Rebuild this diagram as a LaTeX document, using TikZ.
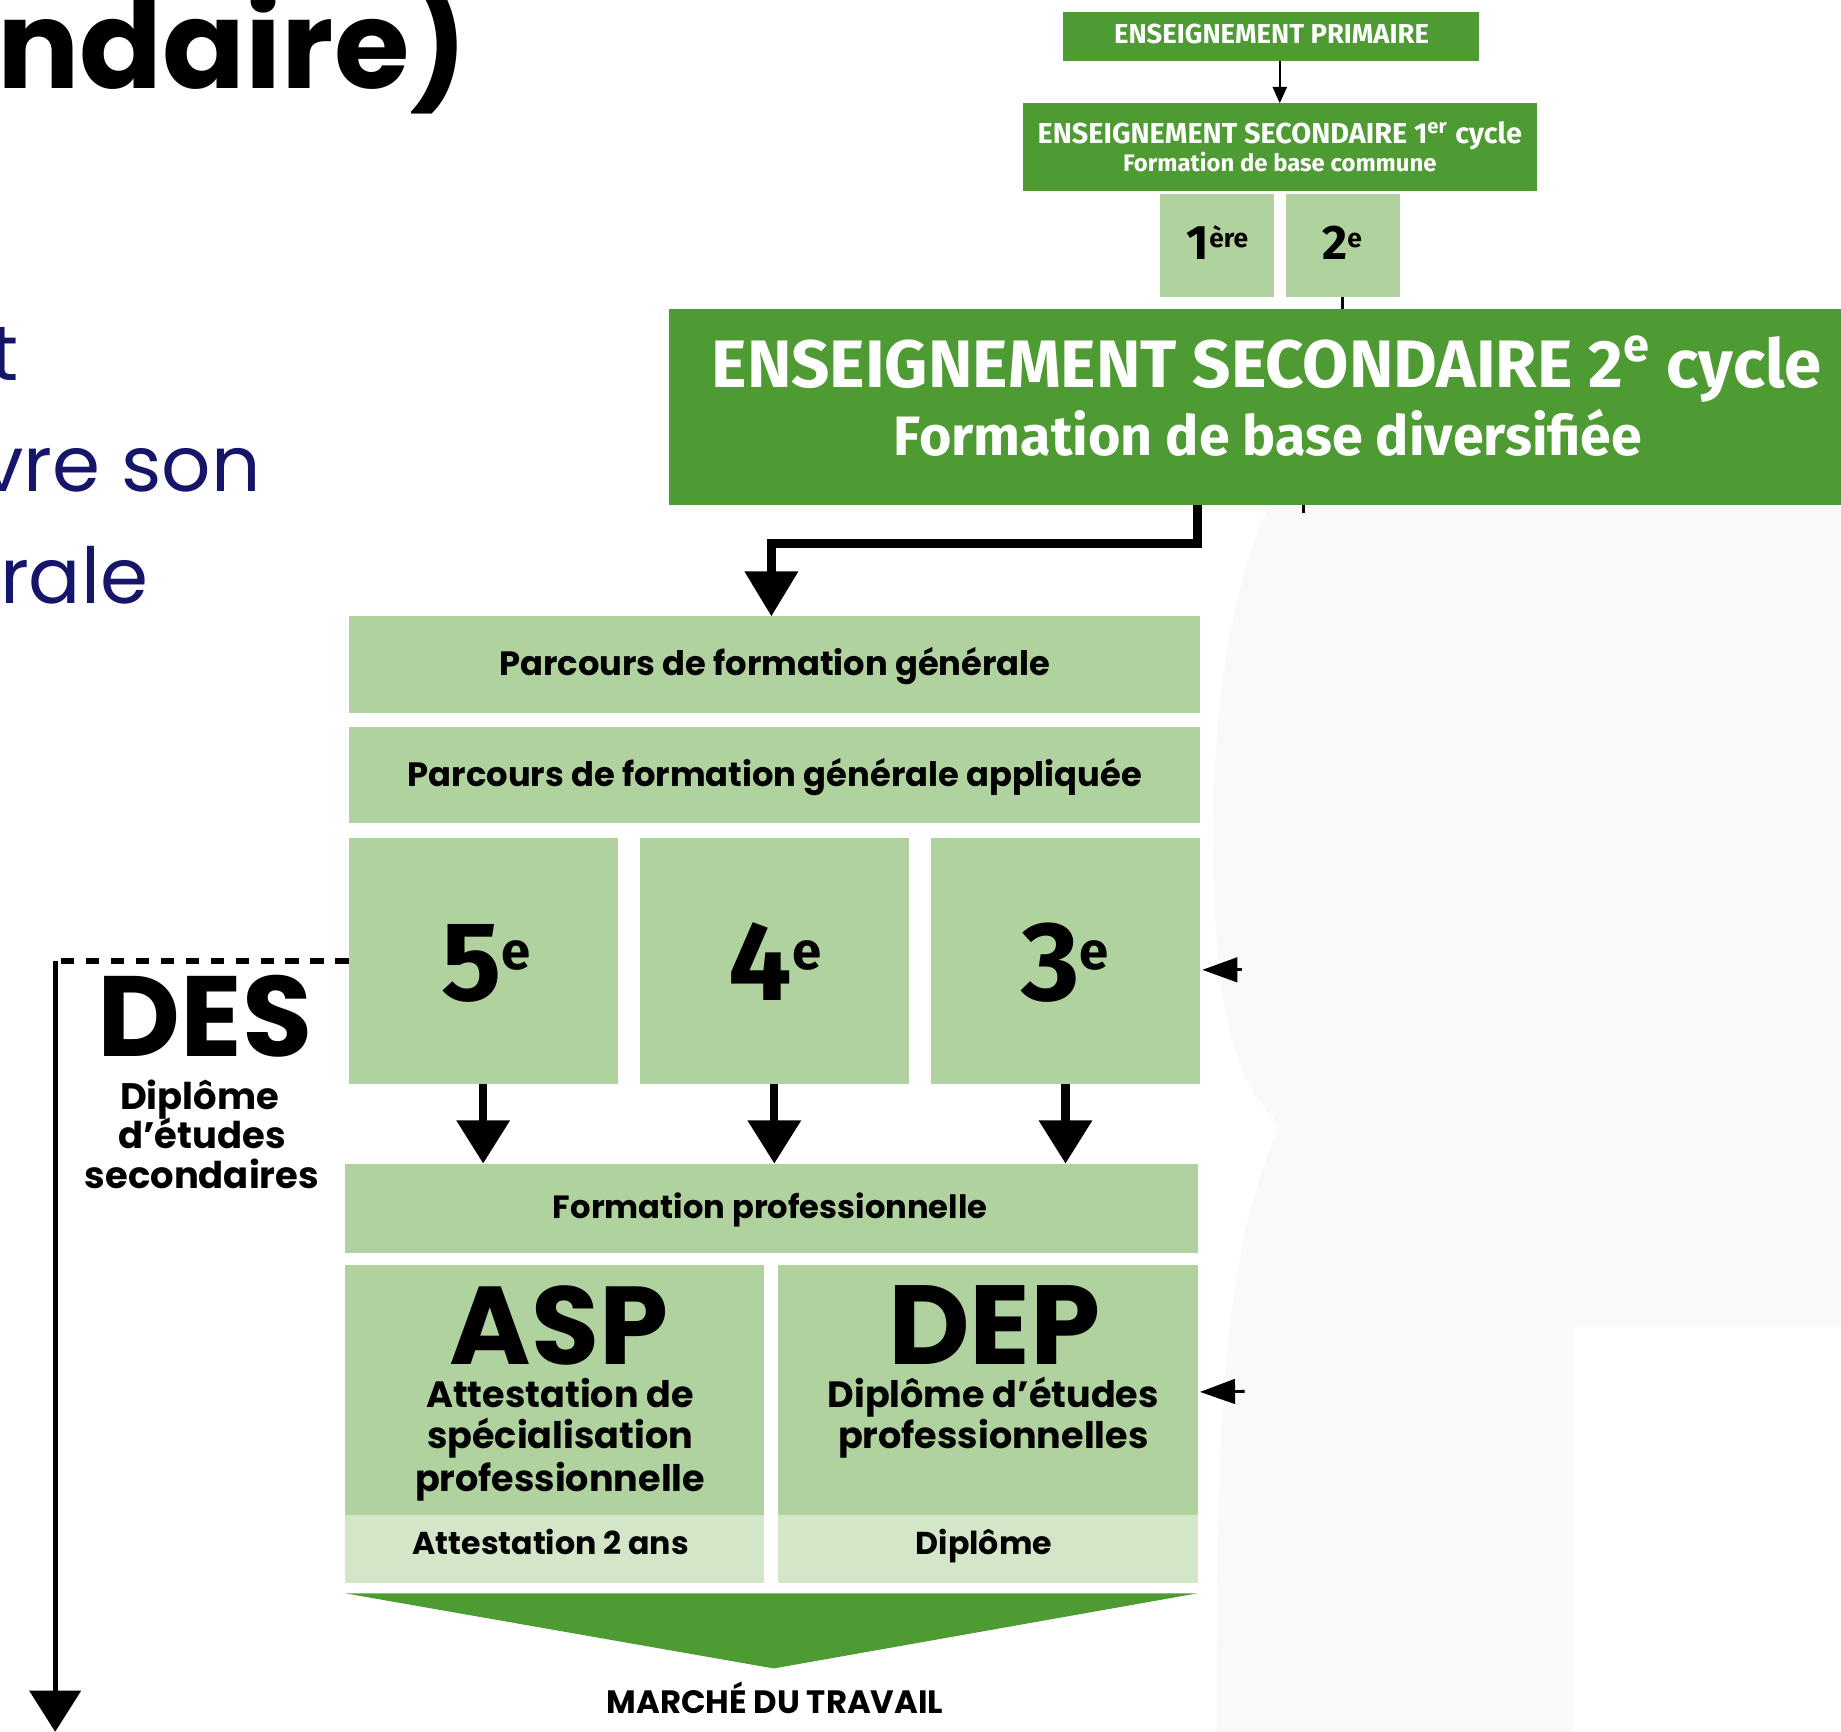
\documentclass[tikz,border=0pt]{standalone}
\usepackage{fontspec}
\setmainfont{Poppins}
\newfontfamily\fira{Fira Sans}
\usetikzlibrary{arrows.meta,calc}
\definecolor{dkg}{HTML}{4E9A33}
\definecolor{ltg}{HTML}{B0D29E}
\definecolor{xlg}{HTML}{D4E6C8}
\definecolor{navy}{HTML}{15156A}
\definecolor{patch}{HTML}{F9F9F9}
\newcommand{\pxu}{*0.3341pt}
\newcommand{\fs}[1]{\fontsize{#1}{#1}\selectfont}
\newcommand{\grade}[2]{{\fs{32}#1}{\fs{15}\raisebox{8.7pt}{#2}}}
\begin{document}
\begin{tikzpicture}[x=0.3341pt,y=-0.3341pt,
  dkbox/.style={fill=dkg,draw=none,inner sep=0pt,outer sep=0pt},
  ltbox/.style={fill=ltg,draw=none,inner sep=0pt,outer sep=0pt},
  xlbox/.style={fill=xlg,draw=none,inner sep=0pt,outer sep=0pt},
  lbl/.style={anchor=base,inner sep=0pt,outer sep=0pt,font=\bfseries},
  wlbl/.style={lbl,text=white},
  bluetxt/.style={inner sep=0pt,outer sep=0pt,text=navy,font=\fs{22}},
  thinarr/.style={line width=0.7pt,-{Triangle[length=4.7pt,width=4pt]}},
  thinline/.style={line width=0.7pt},
  bigarr/.style={line width=2.6pt,-{Triangle[length=12.8pt,width=14.6pt]}},
  downarr/.style={line width=2.3pt,-{Triangle[length=12.3pt,width=14.7pt]}},
  desarr/.style={line width=1.5pt,-{Triangle[length=11.7pt,width=14.4pt]}},
  dashln/.style={line width=1.5pt,dash pattern=on 3.8pt off 3.3pt},
  remarr/.style={line width=0.8pt,-{Triangle[length=10pt,width=7pt]}}
]
\useasboundingbox (0,0) rectangle (1568,1475);

% faint background patch on the right
\fill[patch] (1080,432) .. controls (1040,520) and (1030,650) .. (1034,750)
  .. controls (1036,880) and (1060,930) .. (1090,958)
  .. controls (1050,1050) and (1035,1150) .. (1036,1475)
  -- (1340,1475) -- (1340,1130) -- (1568,1130) -- (1568,432) -- cycle;

% title fragment and body text fragments
\node[anchor=base west,inner sep=0pt,font=\bfseries\fs{34.8}] (title) at (-3,75) {ndaire)};
\node[bluetxt,anchor=base east] (bl1) at (16,324) {t};
\node[bluetxt,anchor=base east] (bl2) at (222,419) {vre son};
\node[bluetxt,anchor=base west] (bl3) at (0,514) {rale};

% top boxes
\node[dkbox,minimum width=355\pxu,minimum height=42\pxu] (prim) at (1082.5,31) {};
\node[wlbl,font=\fira\bfseries\fs{7.8}] (primt) at (1083,37) {ENSEIGNEMENT PRIMAIRE};
\node[dkbox,minimum width=438\pxu,minimum height=75\pxu] (sec1) at (1090,125.5) {};
\node[wlbl,font=\fira\bfseries\fs{8.2}] (sec1a) at (1090,122) {ENSEIGNEMENT SECONDAIRE 1\textsuperscript{er} cycle};
\node[wlbl,font=\fira\bfseries\fs{6.8}] (sec1b) at (1090,146) {Formation de base commune};
\node[ltbox,minimum width=97\pxu,minimum height=88\pxu] (g1) at (1036.5,209) {};
\node[ltbox,minimum width=97\pxu,minimum height=88\pxu] (g2) at (1143.5,209) {};
\node[lbl,font=\fira\bfseries] (g1t) at (1037,221) {{\fs{13.8}1}{\fs{7.5}\raisebox{3.3pt}{ère}}};
\node[lbl,font=\fira\bfseries] (g2t) at (1143,221) {{\fs{13.8}2}{\fs{7.5}\raisebox{3.3pt}{e}}};
\node[dkbox,minimum width=1020\pxu,minimum height=167\pxu] (sec2) at (1080,346.5) {};
\node[wlbl,font=\fira\bfseries\fs{19.1}] (sec2a) at (1079,330) {ENSEIGNEMENT SECONDAIRE 2\textsuperscript{e} cycle};
\node[wlbl,font=\fira\bfseries\fs{15.8}] (sec2b) at (1080,388) {Formation de base diversifiée};

\draw[thinarr] (sec1.north |- prim.south) -- (sec1.north);
\draw[thinline] (g2.south) -- (g2.south |- sec2.north);
\coordinate (tick) at (1110,437);
\draw[thinline] (sec2.south -| tick) -- (tick);

% parcours
\node[ltbox,minimum width=725\pxu,minimum height=82\pxu] (pg) at (659.5,566) {};
\node[lbl,font=\bfseries\fs{9.6}] (pgt) at (660,575) {Parcours de formation générale};
\node[ltbox,minimum width=725\pxu,minimum height=82\pxu] (pga) at (659.5,660) {};
\node[lbl,font=\bfseries\fs{9.6}] (pgat) at (660,670) {Parcours de formation générale appliquée};

\draw[bigarr] (sec2.south -| 1020,0) -- ++(0,33) -| (pg.north -| 657,0);

% grades
\node[ltbox,minimum width=229\pxu,minimum height=209\pxu] (c5) at (411.5,818.5) {};
\node[ltbox,minimum width=229\pxu,minimum height=209\pxu] (c4) at (659.5,818.5) {};
\node[ltbox,minimum width=229\pxu,minimum height=209\pxu] (c3) at (907.5,818.5) {};
\node[lbl,font=\fira\bfseries] (c5t) at (414,852) {\grade{5}{e}};
\node[lbl,font=\fira\bfseries] (c4t) at (660,852) {\grade{4}{e}};
\node[lbl,font=\fira\bfseries] (c3t) at (907,852) {\grade{3}{e}};

% formation professionnelle
\node[ltbox,minimum width=726\pxu,minimum height=76\pxu] (fp) at (657,1029) {};
\node[lbl,font=\bfseries\fs{9.15}] (fpt) at (656,1038) {Formation professionnelle};

\draw[downarr] (c5.south) -- (c5.south |- fp.north);
\draw[downarr] (c4.south) -- (c4.south |- fp.north);
\draw[downarr] (c3.south) -- (c3.south |- fp.north);

% ASP / DEP
\node[ltbox,minimum width=357\pxu,minimum height=213\pxu] (asp) at (472.5,1183.5) {};
\node[xlbox,minimum width=357\pxu,minimum height=58\pxu] (aspb) at (472.5,1319) {};
\node[ltbox,minimum width=357\pxu,minimum height=213\pxu] (dep) at (841.5,1183.5) {};
\node[xlbox,minimum width=357\pxu,minimum height=58\pxu] (depb) at (841.5,1319) {};

\node[lbl,font=\bfseries\fs{31.5}] (aspt) at (476,1162) {ASP};
\node[lbl,font=\bfseries\fs{10.4}] (asp1) at (477,1199) {Attestation de};
\node[lbl,font=\bfseries\fs{10.4}] (asp2) at (477,1234) {spécialisation};
\node[lbl,font=\bfseries\fs{10.4}] (asp3) at (477,1270) {professionnelle};
\node[lbl,font=\bfseries\fs{9}] (aspbt) at (469,1324) {Attestation 2 ans};

\node[lbl,font=\bfseries\fs{32}] (dept) at (847,1162) {DEP};
\node[lbl,font=\bfseries\fs{10.4}] (dep1) at (846,1199) {Diplôme d’études};
\node[lbl,font=\bfseries\fs{10.4}] (dep2) at (846,1234) {professionnelles};
\node[lbl,font=\bfseries\fs{9}] (depbt) at (838,1324) {Diplôme};

% marché du travail
\fill[dkg] (aspb.south west |- 0,1357) -- (depb.south east |- 0,1357) -- (659,1421) -- cycle;
\node[lbl,font=\bfseries\fs{9.2}] (mdt) at (660,1459) {MARCHÉ DU TRAVAIL};

% DES
\coordinate (corner) at (47,818.5);
\coordinate (desend) at (47,1475);
\draw[dashln] (c5.west) -- (corner);
\draw[desarr] (corner) -- (desend);
\node[lbl,font=\bfseries\fs{32.5}] (des) at (174.5,900) {DES};
\node[lbl,font=\bfseries\fs{10.5}] (des1) at (170,945) {Diplôme};
\node[lbl,font=\bfseries\fs{10.5}] (des2) at (172,978.5) {d’études};
\node[lbl,font=\bfseries\fs{10.5}] (des3) at (172,1012) {secondaires};

% remnant arrowheads on the right
\coordinate (r1) at (1058,826);
\coordinate (r2) at (1060,1185);
\draw[remarr] (r1) -- ($(c3.east)+(2,7.5)$);
\draw[remarr] (r2) -- ($(dep.east)+(2,2)$);
\end{tikzpicture}
\end{document}
